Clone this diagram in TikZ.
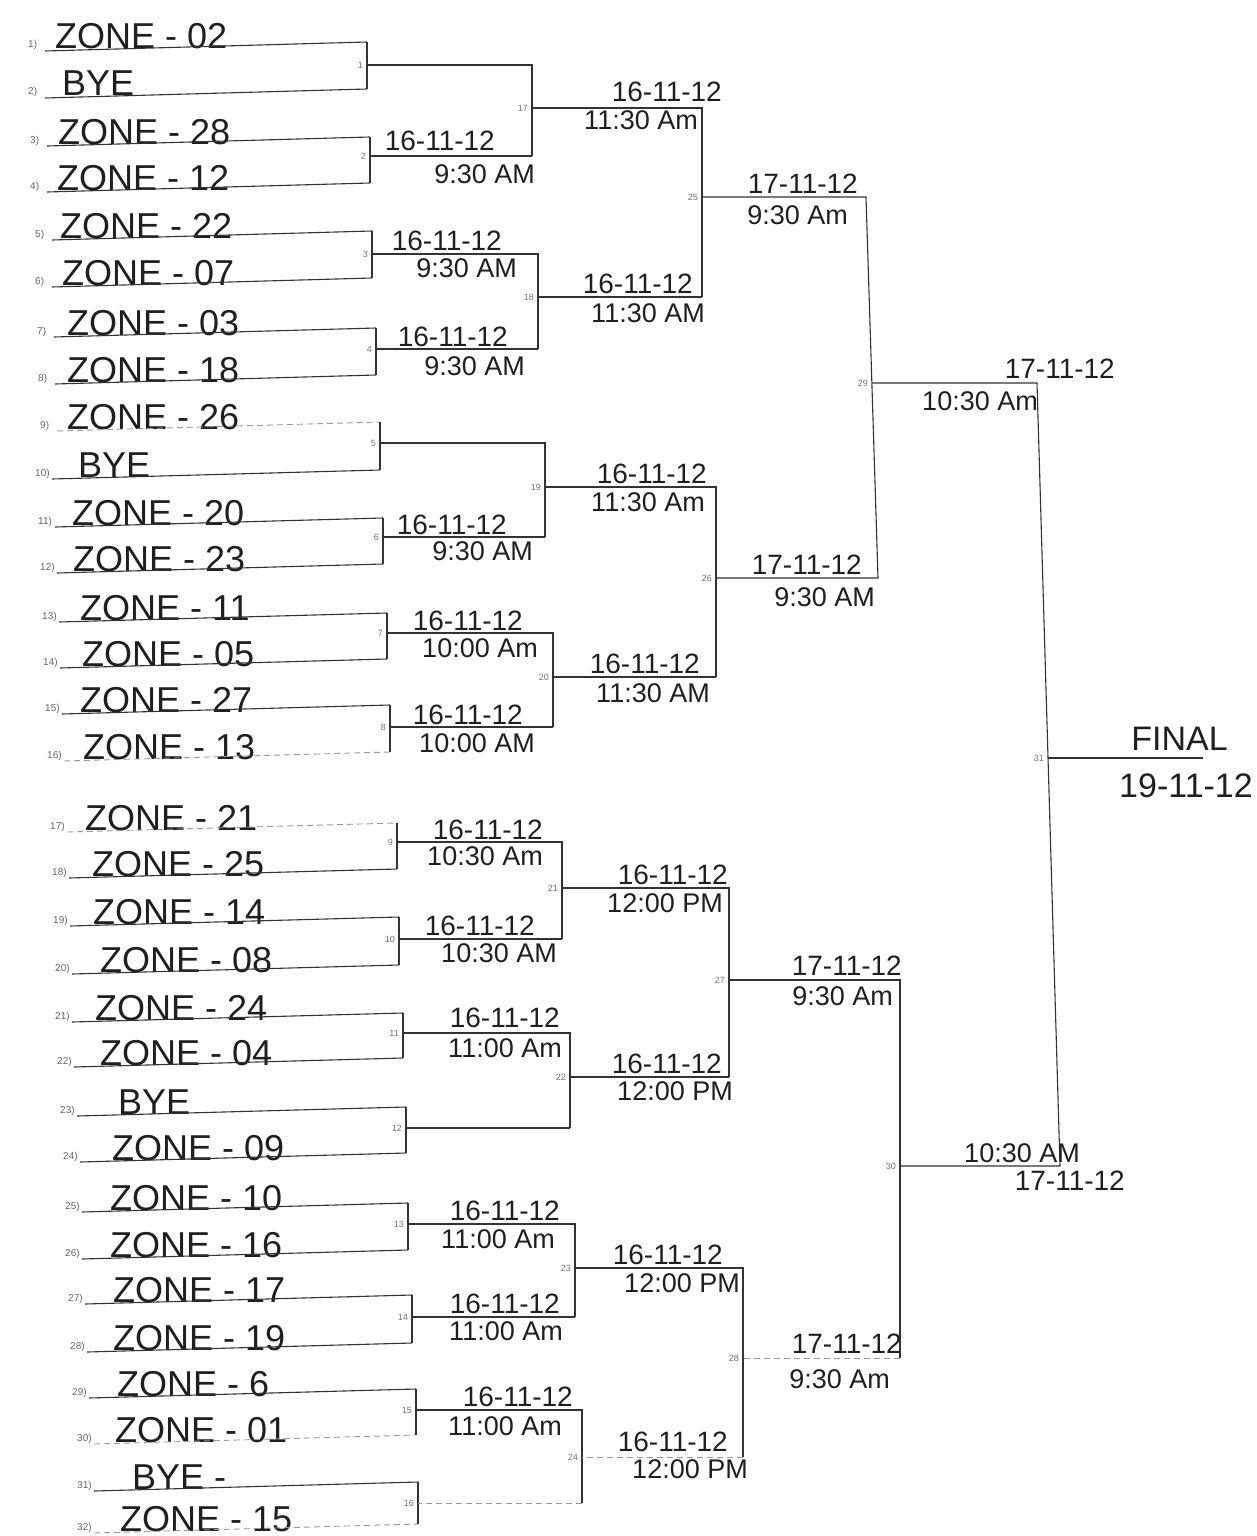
\documentclass[tikz,border=0pt]{standalone}
\usepackage{fontspec}
\setmainfont{Liberation Sans}
\begin{document}
\begin{tikzpicture}[x=1pt,y=-1pt,
  ln/.style={draw=black!80, line width=1.1pt},
  fnt/.style={draw=black!40, line width=0.9pt, dash pattern=on 6pt off 4pt},
  entry/.style={anchor=base west, inner sep=0pt, font=\fontsize{36}{36}\selectfont, text=black!88},
  rowlab/.style={anchor=base west, inner sep=0pt, font=\fontsize{10}{10}\selectfont, text=black!60},
  mlab/.style={anchor=east, inner sep=1pt, font=\fontsize{9}{9}\selectfont, text=black!55},
  dt/.style={anchor=base east, inner sep=0pt, font=\fontsize{28}{28}\selectfont, text=black!88},
  tm/.style={anchor=base east, inner sep=0pt, font=\fontsize{27}{27}\selectfont, text=black!88},
  big/.style={anchor=base east, inner sep=0pt, font=\fontsize{34}{34}\selectfont, text=black!88}]
\useasboundingbox (0,0) rectangle (1257,1536);
\fill[white] (0,0) rectangle (1257,1536);

% ---- entries (rows) ----
\foreach \i/\y/\lx/\tx/\bx/\txt/\st in {
  1/42/28/55/367/{ZONE - 02}/ln,
  2/89/28/62/367/{BYE}/ln,
  3/137/30/58/370/{ZONE - 28}/ln,
  4/183/30/57/370/{ZONE - 12}/ln,
  5/231/35/60/372/{ZONE - 22}/ln,
  6/278/35/62/372/{ZONE - 07}/ln,
  7/328/37/67/376/{ZONE - 03}/ln,
  8/375/38/67/376/{ZONE - 18}/ln,
  9/422/40/67/380/{ZONE - 26}/fnt,
  10/470/35/78/380/{BYE}/ln,
  11/518/38/72/383/{ZONE - 20}/ln,
  12/564/40/73/383/{ZONE - 23}/ln,
  13/613/42/80/387/{ZONE - 11}/ln,
  14/659/43/82/387/{ZONE - 05}/ln,
  15/705/45/80/390/{ZONE - 27}/ln,
  16/752/47/83/390/{ZONE - 13}/fnt,
  17/823/50/85/397/{ZONE - 21}/fnt,
  18/869/52/92/397/{ZONE - 25}/ln,
  19/917/53/93/399/{ZONE - 14}/ln,
  20/965/55/100/399/{ZONE - 08}/ln,
  21/1013/55/95/403/{ZONE - 24}/ln,
  22/1058/57/100/403/{ZONE - 04}/ln,
  23/1107/60/118/406/{BYE}/ln,
  24/1153/63/112/406/{ZONE - 09}/ln,
  25/1203/65/110/408/{ZONE - 10}/ln,
  26/1250/65/110/408/{ZONE - 16}/ln,
  27/1295/68/113/412/{ZONE - 17}/ln,
  28/1343/70/113/412/{ZONE - 19}/ln,
  29/1389/72/117/416/{ZONE - 6}/ln,
  30/1435/77/115/416/{ZONE - 01}/fnt,
  31/1482/77/132/418/{BYE -}/ln,
  32/1524/77/120/418/{ZONE - 15}/fnt}{
  \node[rowlab] (n\i) at (\lx,\y+6) {\i)};
  \node[entry] (e\i) at (\tx,\y+7) {\txt};
  \coordinate (L\i) at (\lx+17,\y+9);
  \coordinate (R\i) at (\bx,\y);
  \draw[\st] (L\i) -- (R\i);
}

% ---- round 1 brackets ----
\foreach \m/\a/\b/\bx/\ym in {
  1/1/2/367/65, 2/3/4/370/156, 3/5/6/372/254, 4/7/8/376/349,
  5/9/10/380/443, 6/11/12/383/537, 7/13/14/387/633, 8/15/16/390/727,
  9/17/18/397/842, 10/19/20/399/939, 11/21/22/403/1033, 12/23/24/406/1128,
  13/25/26/408/1224, 14/27/28/412/1317, 15/29/30/416/1410, 16/31/32/418/1503}{
  \draw[ln] (R\a) -- (R\b);
  \coordinate (M\m) at (\bx,\ym);
  \node[mlab] (k\m) at (\bx-3,\ym) {\m};
}

% ---- rounds 2 and 3 ----
\foreach \m/\a/\b/\bx/\ym/\sb in {
  17/1/2/532/108/ln, 18/3/4/538/297/ln, 19/5/6/545/487/ln, 20/7/8/553/677/ln,
  21/9/10/562/888/ln, 22/11/12/570/1077/ln, 23/13/14/575/1268/ln, 24/15/16/582/1457/fnt,
  25/17/18/702/197/ln, 26/19/20/716/578/ln, 27/21/22/729/980/ln, 28/23/24/743/1358/fnt}{
  \coordinate (M\m) at (\bx,\ym);
  \draw[ln] (M\a) -- (M\a -| M\m) -- (M\b -| M\m);
  \draw[\sb] (M\b -| M\m) -- (M\b);
  \node[mlab] (k\m) at (\bx-3,\ym) {\m};
}

% ---- semi-finals and final ----
\coordinate (T29) at (866,197);
\coordinate (B29) at (878,578);
\coordinate (M29) at (872,383);
\draw[ln] (M25) -- (T29) -- (B29) -- (M26);
\node[mlab] (k29) at (869,383) {29};

\coordinate (M30) at (900,1166);
\draw[ln] (M27) -- (M27 -| M30) -- (M28 -| M30);
\draw[fnt] (M28 -| M30) -- (M28);
\node[mlab] (k30) at (897,1166) {30};

\coordinate (T31) at (1037,383);
\coordinate (B31) at (1060,1166);
\coordinate (M31) at (1048,758);
\draw[ln] (M29) -- (T31) -- (B31) -- (M30);
\node[mlab] (k31) at (1045,758) {31};
\coordinate (F) at (1203,758);
\draw[ln] (M31) -- (F);

% ---- dates and times, round 1 ----
\node[dt] (d2) at (495,150) {16-11-12};  \node[tm] (t2) at (535,183) {9:30 AM};
\node[dt] (d3) at (502,250) {16-11-12};  \node[tm] (t3) at (517,277) {9:30 AM};
\node[dt] (d4) at (508,346) {16-11-12};  \node[tm] (t4) at (525,375) {9:30 AM};
\node[dt] (d6) at (507,534) {16-11-12};  \node[tm] (t6) at (533,560) {9:30 AM};
\node[dt] (d7) at (523,630) {16-11-12};  \node[tm] (t7) at (538,657) {10:00 Am};
\node[dt] (d8) at (523,724) {16-11-12};  \node[tm] (t8) at (535,752) {10:00 AM};
\node[dt] (d9) at (543,839) {16-11-12};  \node[tm] (t9) at (543,865) {10:30 Am};
\node[dt] (d10) at (535,935) {16-11-12}; \node[tm] (t10) at (557,962) {10:30 AM};
\node[dt] (d11) at (560,1027) {16-11-12}; \node[tm] (t11) at (562,1057) {11:00 Am};
\node[dt] (d13) at (560,1220) {16-11-12}; \node[tm] (t13) at (555,1248) {11:00 Am};
\node[dt] (d14) at (560,1313) {16-11-12}; \node[tm] (t14) at (563,1340) {11:00 Am};
\node[dt] (d15) at (573,1406) {16-11-12}; \node[tm] (t15) at (562,1435) {11:00 Am};

% ---- round 2 ----
\node[dt] (d17) at (722,102) {16-11-12}; \node[tm] (t17) at (698,130) {11:30 Am};
\node[dt] (d18) at (693,293) {16-11-12}; \node[tm] (t18) at (705,322) {11:30 AM};
\node[dt] (d19) at (707,483) {16-11-12}; \node[tm] (t19) at (705,511) {11:30 Am};
\node[dt] (d20) at (700,673) {16-11-12}; \node[tm] (t20) at (710,702) {11:30 AM};
\node[dt] (d21) at (728,884) {16-11-12}; \node[tm] (t21) at (723,912) {12:00 PM};
\node[dt] (d22) at (722,1073) {16-11-12}; \node[tm] (t22) at (733,1100) {12:00 PM};
\node[dt] (d23) at (723,1264) {16-11-12}; \node[tm] (t23) at (740,1292) {12:00 PM};
\node[dt] (d24) at (728,1451) {16-11-12}; \node[tm] (t24) at (748,1478) {12:00 PM};

% ---- round 3 ----
\node[dt] (d25) at (858,193) {17-11-12}; \node[tm] (t25) at (848,224) {9:30 Am};
\node[dt] (d26) at (862,574) {17-11-12}; \node[tm] (t26) at (875,606) {9:30 AM};
\node[dt] (d27) at (902,975) {17-11-12}; \node[tm] (t27) at (893,1005) {9:30 Am};
\node[dt] (d28) at (902,1353) {17-11-12}; \node[tm] (t28) at (890,1388) {9:30 Am};

% ---- semi-finals ----
\node[dt] (d29) at (1115,378) {17-11-12}; \node[tm] (t29) at (1038,410) {10:30 Am};
\node[tm] (t30) at (1080,1162) {10:30 AM}; \node[dt] (d30) at (1125,1190) {17-11-12};

% ---- final ----
\node[big] (fin) at (1228,750) {FINAL};
\node[big] (d31) at (1253,797) {19-11-12};
\end{tikzpicture}
\end{document}
